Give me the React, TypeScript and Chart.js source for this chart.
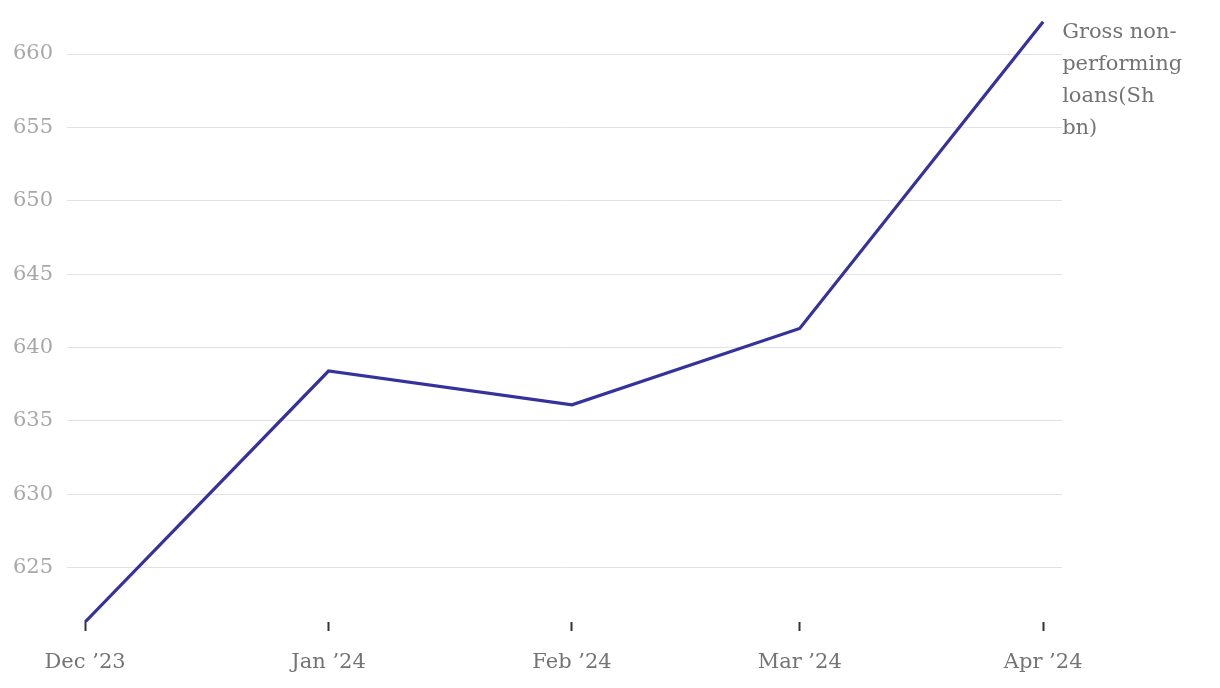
import React, { useEffect, useRef } from "react";
import { Chart, registerables } from "chart.js";

Chart.register(...registerables);

const monthDates = ["2023-12-01", "2024-01-01", "2024-02-01", "2024-03-01", "2024-04-01"];
const monthLabels = ["Dec ’23", "Jan ’24", "Feb ’24", "Mar ’24", "Apr ’24"];
const npLoans = [621.3, 638.4, 636.1, 641.3, 662.2];
const yTicks = [625, 630, 635, 640, 645, 650, 655, 660];
const seriesLabel = ["Gross non-", "performing", "loans(Sh", "bn)"];

const DAY = 86400000;
const base = Date.parse(monthDates[0]);
const dayOffsets = monthDates.map((d) => Math.round((Date.parse(d) - base) / DAY));

const FONT = "'DejaVu Serif', serif";

export default function App() {
  const ref = useRef<HTMLCanvasElement | null>(null);

  useEffect(() => {
    if (!ref.current) return;
    const endLabel = {
      id: "endLabel",
      afterDatasetsDraw(chart: any) {
        const meta = chart.getDatasetMeta(0);
        const last = meta.data[meta.data.length - 1];
        if (!last) return;
        const ctx = chart.ctx;
        ctx.save();
        ctx.font = `21px ${FONT}`;
        ctx.fillStyle = "#737373";
        ctx.textAlign = "left";
        ctx.textBaseline = "alphabetic";
        seriesLabel.forEach((t, i) => {
          ctx.fillText(t, last.x + 19, 38 + i * 32);
        });
        ctx.restore();
      },
    };
    const chart = new Chart(ref.current, {
      type: "line",
      data: {
        datasets: [
          {
            label: seriesLabel.join(" "),
            data: dayOffsets.map((x, i) => ({ x, y: npLoans[i] })),
            borderColor: "#35329b",
            borderWidth: 3.2,
            pointRadius: 0,
            tension: 0,
            fill: false,
          },
        ],
      },
      options: {
        animation: false,
        responsive: true,
        maintainAspectRatio: false,
        layout: { padding: { left: 0, right: 158, top: 21, bottom: 0 } },
        plugins: { legend: { display: false }, tooltip: { enabled: false } },
        scales: {
          x: {
            type: "linear",
            min: -2.3,
            max: 124.4,
            afterBuildTicks: (scale: any) => {
              scale.ticks = dayOffsets.map((v) => ({ value: v }));
            },
            afterFit: (scale: any) => {
              scale.height = 66;
              scale.paddingLeft = 0;
              scale.paddingRight = 0;
            },
            grid: {
              drawOnChartArea: false,
              drawTicks: true,
              tickLength: 9,
              tickColor: "#333333",
              tickWidth: 2,
            },
            border: { display: false },
            ticks: {
              autoSkip: false,
              maxRotation: 0,
              padding: 19,
              color: "#747474",
              font: { family: FONT, size: 21 },
              callback: (v: any) => {
                const idx = dayOffsets.indexOf(Number(v));
                return idx >= 0 ? monthLabels[idx] : "";
              },
            },
          },
          y: {
            min: 621.3,
            max: 662.25,
            afterBuildTicks: (scale: any) => {
              scale.ticks = yTicks.map((v) => ({ value: v }));
            },
            afterFit: (scale: any) => {
              scale.width = 67;
              scale.paddingTop = 0;
              scale.paddingBottom = 0;
            },
            grid: { color: "#e2e2e2", lineWidth: 1, drawTicks: false },
            border: { display: false },
            ticks: {
              padding: 14,
              color: "#a8a8a8",
              font: { family: FONT, size: 21 },
              callback: (v: any) => String(v),
            },
          },
        },
      },
      plugins: [endLabel],
    });
    return () => chart.destroy();
  }, []);

  return (
    <div style={{ position: "absolute", left: 0, top: 0, width: 1220, height: 688 }}>
      <canvas ref={ref} />
    </div>
  );
}
